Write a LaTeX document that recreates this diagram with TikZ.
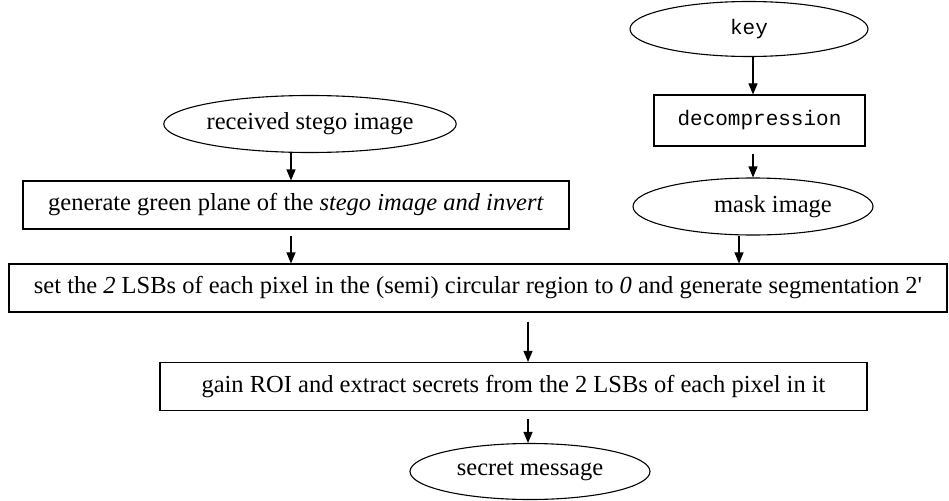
\documentclass[tikz,border=0pt]{standalone}
\usepackage{fontspec}
\setmainfont{Liberation Serif}
\newfontfamily\monofam{Liberation Mono}
\usetikzlibrary{shapes.geometric,arrows.meta}
\begin{document}
\begin{tikzpicture}[x=1pt,y=-1pt,
  every node/.style={font=\fontsize{24.5}{28}\selectfont, inner sep=0pt},
  mono/.style={font=\monofam\fontsize{21}{24}\selectfont},
  oval/.style={draw, ellipse, line width=1.1pt},
  box/.style={draw, rectangle, line width=1.1pt},
  arr/.style={line width=1.1pt, -{Triangle[width=9pt,length=11pt]}}]
\useasboundingbox (0,0) rectangle (949,500);

% column positions of the vertical connectors
\coordinate (colL) at (291,0);
\coordinate (colR) at (753,0);
\coordinate (colM) at (739,0);
\coordinate (colC) at (528,0);

% right branch
\node[oval, mono, minimum width=238pt, minimum height=55pt] (key) at (749,29) {key};
\node[box, mono, minimum width=211pt, minimum height=51pt] (dec) at (759.5,120.5) {decompression};
\node[oval, minimum width=240pt, minimum height=57pt] (mask) at (753,206.5) {\hspace*{40pt}mask image};

% left branch
\node[oval, minimum width=239pt, minimum height=57pt] (recv) at (310,124) {received stego image};
\node[box, minimum width=546pt, minimum height=48pt] (green) at (296,205) {generate green plane of the \textit{stego image and invert}};

% common steps
\node[box, minimum width=938pt, minimum height=48pt] (big) at (478,288) {set the \textit{2} LSBs of each pixel in the (semi) circular region to \textit{0} and generate segmentation 2\textquotesingle};
\node[box, minimum width=707pt, minimum height=48pt] (gain) at (513.5,386.5) {gain ROI and extract secrets from the 2 LSBs of each pixel in it};
\node[oval, minimum width=240pt, minimum height=56pt] (secret) at (530,471.5) {secret message};

% connectors
\draw[arr] (key.south -| colR) -- (dec.north -| colR);
\draw[arr, shorten <=7pt] (dec.south -| colR) -- (mask.north -| colR);
\draw[arr] (mask.south -| colM) -- (big.north -| colM);
\draw[arr] (recv.south -| colL) -- (green.north -| colL);
\draw[arr, shorten <=6pt] (green.south -| colL) -- (big.north -| colL);
\draw[arr, shorten <=9pt] (big.south -| colC) -- (gain.north -| colC);
\draw[arr, shorten <=8pt] (gain.south -| colC) -- (secret.north -| colC);
\end{tikzpicture}
\end{document}
